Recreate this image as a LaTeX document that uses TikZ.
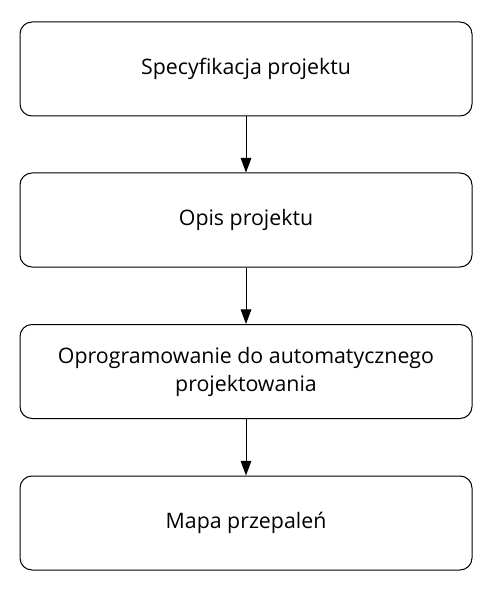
\documentclass[tikz,border=0pt]{standalone}
\usepackage{fontspec}
\setmainfont{Open Sans}
\usetikzlibrary{arrows.meta}

\tikzset{every picture/.style={line width=0.75pt}}
\tikzset{stagebox/.style={draw, rounded corners=9pt, minimum width=339pt, minimum height=70.5pt, align=center, inner sep=0.75pt, font=\fontsize{16}{21}\selectfont}}
\tikzset{flowarrow/.style={-{Triangle[length=11pt,width=8pt]}}}

\begin{document}
\begin{tikzpicture}[x=0.75pt,y=0.75pt,yscale=-1,xscale=1]
%set diagram size
\useasboundingbox (0,0) rectangle (492,591);

%Rounded Rect
\draw (246,69) node [stagebox] (spec) {Specyfikacja projektu};
%Rounded Rect
\draw (246,220) node [stagebox] (opis) {Opis projektu};
%Rounded Rect
\draw (246,371.5) node [stagebox] (soft) {Oprogramowanie do automatycznego\\projektowania};
%Rounded Rect
\draw (246,523) node [stagebox] (mapa) {Mapa przepaleń};

%Straight Lines
\draw [flowarrow] (spec) -- (opis);
%Straight Lines
\draw [flowarrow] (opis) -- (soft);
%Straight Lines
\draw [flowarrow] (soft) -- (mapa);
\end{tikzpicture}
\end{document}
